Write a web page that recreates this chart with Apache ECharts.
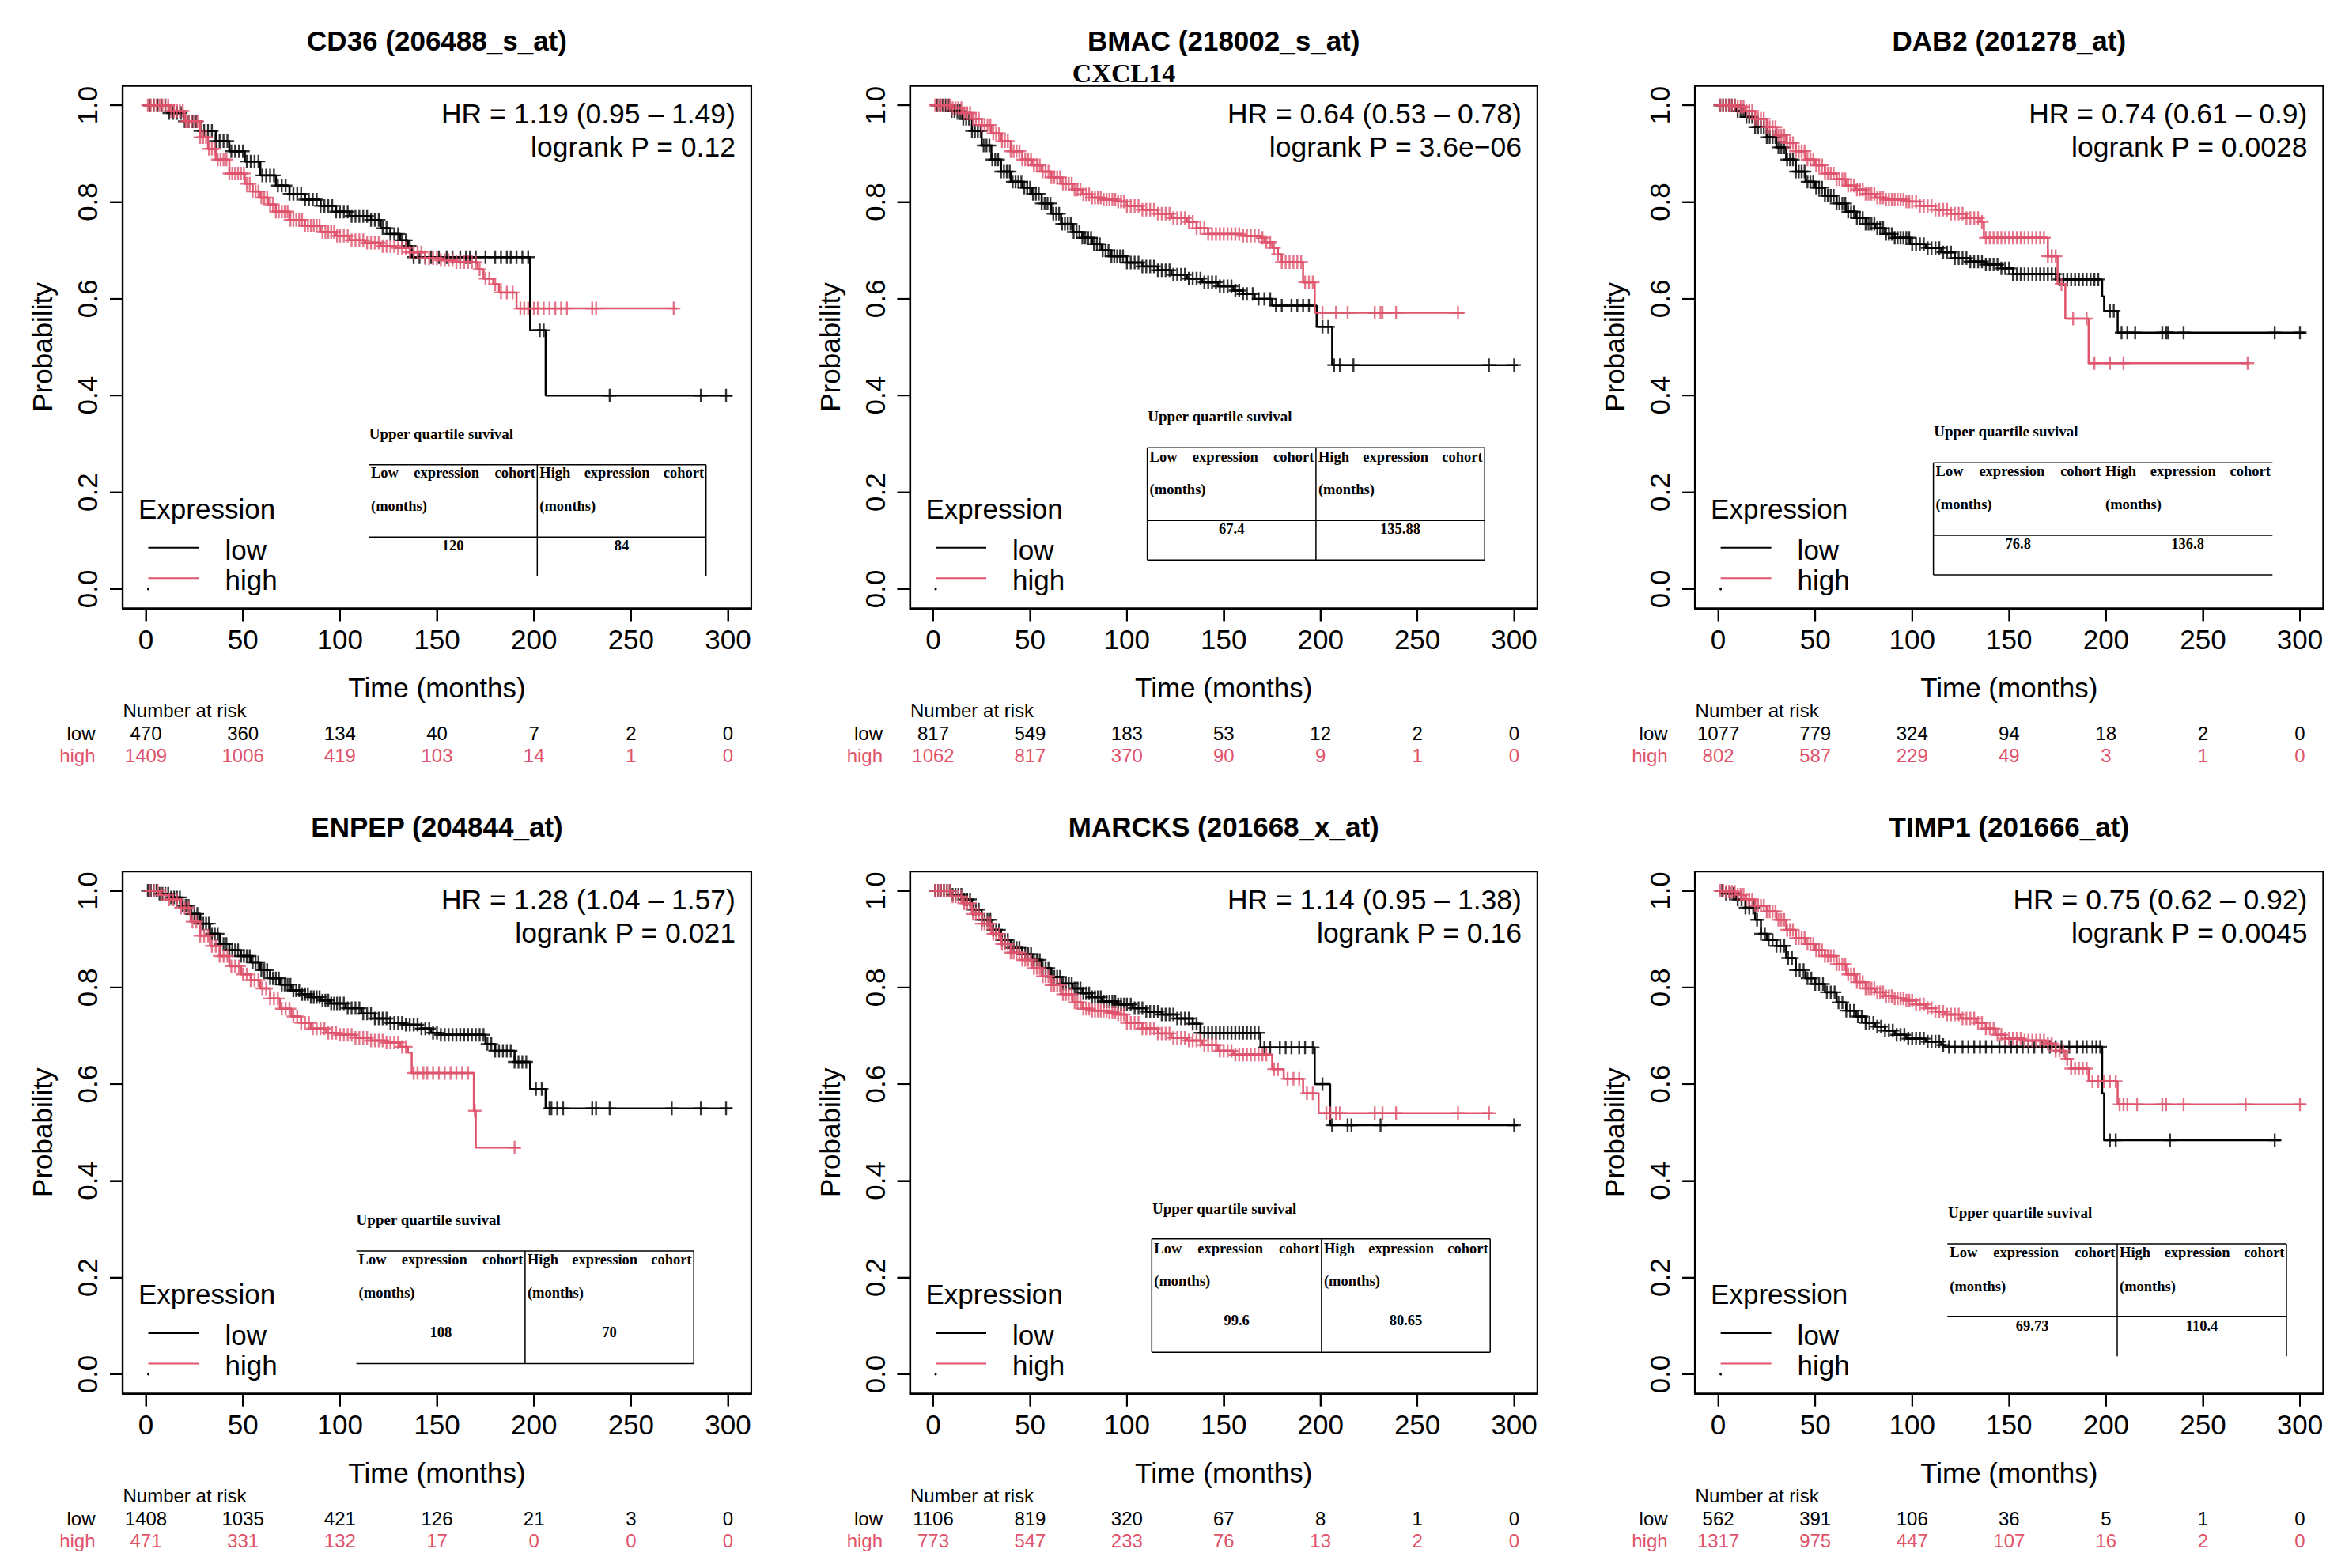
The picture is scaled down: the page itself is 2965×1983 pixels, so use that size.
<!DOCTYPE html>
<html><head><meta charset="utf-8">
<script src="https://cdn.jsdelivr.net/npm/echarts@6/dist/echarts.min.js"></script>
<style>html,body{margin:0;padding:0;background:#fff}#c{width:2965px;height:1983px}</style>
</head><body><div id="c"></div>
<script>
// ---------------- DATA ----------------
const panelTitles = ["CD36 (206488_s_at)", "BMAC (218002_s_at)", "DAB2 (201278_at)", "ENPEP (204844_at)", "MARCKS (201668_x_at)", "TIMP1 (201666_at)"];
const hrLabels = ["HR = 1.19 (0.95 \u2013 1.49)", "HR = 0.64 (0.53 \u2013 0.78)", "HR = 0.74 (0.61 \u2013 0.9)", "HR = 1.28 (1.04 \u2013 1.57)", "HR = 1.14 (0.95 \u2013 1.38)", "HR = 0.75 (0.62 \u2013 0.92)"];
const logrankLabels = ["logrank P = 0.12", "logrank P = 3.6e\u221206", "logrank P = 0.0028", "logrank P = 0.021", "logrank P = 0.16", "logrank P = 0.0045"];
const xTicks = [0, 50, 100, 150, 200, 250, 300];
const yTicks = [0, 0.2, 0.4, 0.6, 0.8, 1.0];
const riskTimes = [0, 50, 100, 150, 200, 250, 300];
const riskLow = [[470,360,134,40,7,2,0],[817,549,183,53,12,2,0],[1077,779,324,94,18,2,0],[1408,1035,421,126,21,3,0],[1106,819,320,67,8,1,0],[562,391,106,36,5,1,0]];
const riskHigh = [[1409,1006,419,103,14,1,0],[1062,817,370,90,9,1,0],[802,587,229,49,3,1,0],[471,331,132,17,0,0,0],[773,547,233,76,13,2,0],[1317,975,447,107,16,2,0]];
const quartileLow = ["120", "67.4", "76.8", "108", "99.6", "69.73"];
const quartileHigh = ["84", "135.88", "136.8", "70", "80.65", "110.4"];
const groupNames = ["low", "high"];

// KM curves: [time (months), survival probability]
const cd36Low = [[0,1],[12,0.984],[20,0.967],[28,0.947],[36,0.926],[43,0.905],[51,0.884],[59,0.855],[67,0.834],[74,0.817],[82,0.805],[90,0.792],[98,0.78],[105,0.771],[116,0.763],[121,0.746],[126,0.734],[131,0.721],[135,0.709],[137,0.686],[198,0.535],[206,0.40],[302,0.40]];
const cd36High = [[0,1],[12,0.988],[20,0.967],[28,0.934],[32,0.91],[36,0.888],[43,0.859],[51,0.838],[55,0.822],[59,0.809],[63,0.795],[67,0.78],[74,0.763],[82,0.751],[90,0.738],[98,0.73],[105,0.721],[113,0.716],[121,0.709],[129,0.705],[136,0.696],[144,0.684],[152,0.68],[160,0.676],[171,0.661],[174,0.642],[179,0.63],[182,0.613],[191,0.58],[274,0.58]];
const cd36LowCens = [2,4,6,8,10,12,14,16,18,20,22,24,26,28,30,32,34,36,38,40,42,44,46,48,50,52,54,56,58,60,62,64,66,68,70,72,74,76,78,80,82,84,86,88,90,92,94,96,98,100,102,104,106,108,110,112,114,116,118,120,122,124,126,128,130,132,134,136,138,141,144,147,151,155,158,162,165,167,170,175,180,183,186,188,191,194,197,203,205,239,286,299];
const cd36HighCens = [1,2.5,4,5.5,7,8.5,10,11.5,13,14.5,16,17.5,19,20.5,22,23.5,25,26.5,28,29.5,31,32.5,34,35.5,37,38.5,40,41.5,43,44.5,46,47.5,49,50.5,52,53.5,55,56.5,58,59.5,61,62.5,64,65.5,67,68.5,70,71.5,73,74.5,76,77.5,79,80.5,82,83.5,85,86.5,88,89.5,91,92.5,94,95.5,97,98.5,100,102,104,106,108,110,112,114,116,118,120,122,124,126,128,130,132,134,136,138,140,142,144,146,148,150,152,154,156,158,160,162,164,166,168,170,172,175,177,180,183,186,189,193,195,197,200,202,205,208,211,214,217,230,232,272];

const bmacLow = [[0,1],[9,0.988],[15,0.972],[20,0.947],[25,0.917],[30,0.888],[35,0.863],[40,0.842],[46,0.83],[51,0.817],[56,0.797],[61,0.776],[66,0.755],[72,0.738],[77,0.726],[82,0.713],[87,0.70],[92,0.688],[100,0.675],[108,0.667],[116,0.659],[123,0.65],[131,0.642],[139,0.634],[147,0.626],[155,0.617],[160,0.61],[166,0.60],[175,0.586],[198,0.542],[206,0.463],[302,0.463]];
const bmacHigh = [[0,1],[9,0.994],[15,0.984],[20,0.972],[25,0.959],[30,0.942],[35,0.926],[40,0.905],[46,0.888],[51,0.876],[56,0.863],[61,0.851],[66,0.838],[72,0.826],[77,0.816],[82,0.809],[87,0.805],[95,0.801],[100,0.792],[108,0.784],[116,0.776],[123,0.767],[131,0.759],[136,0.746],[142,0.734],[160,0.73],[169,0.726],[171,0.717],[175,0.705],[178,0.692],[180,0.676],[191,0.634],[197,0.571],[274,0.571]];
const bmacLowCens = [2,3.5,5,6.5,8,9.5,11,12.5,14,15.5,17,18.5,20,21.5,23,24.5,26,27.5,29,30.5,32,33.5,35,36.5,38,39.5,41,42.5,44,45.5,47,48.5,50,51.5,53,54.5,56,57.5,59,60.5,62,63.5,65,66.5,68,69.5,71,72.5,74,75.5,77,78.5,80,81.5,83,84.5,86,87.5,89,90.5,92,93.5,95,96.5,98,100,102,104,106,108,110,112,114,116,118,120,122,124,126,128,130,132,134,136,138,140,142,144,146,148,150,152,154,156,158,160,162,165,168,171,174,177,180,185,188,191,194,201,204,207,210,217,287,300];
const bmacHighCens = [1,2.5,4,5.5,7,8.5,10,11.5,13,14.5,16,17.5,19,20.5,22,23.5,25,26.5,28,29.5,31,32.5,34,35.5,37,38.5,40,41.5,43,44.5,46,47.5,49,50.5,52,53.5,55,56.5,58,59.5,61,62.5,64,65.5,67,68.5,70,71.5,73,74.5,76,77.5,79,80.5,82,83.5,85,86.5,88,89.5,91,92.5,94,95.5,97,98.5,100,102,104,106,108,110,112,114,116,118,120,122,124,126,128,130,132,134,136,138,140,142,144,146,148,150,152,154,156,158,160,162,164,166,168,170,172,174,176,178,180,182,184,186,188,190,192,194,196,201,208,214,228,231,232,239,271];

const dab2Low = [[0,1],[9,0.988],[14,0.976],[19,0.955],[25,0.934],[30,0.913],[35,0.888],[40,0.863],[45,0.842],[50,0.83],[55,0.813],[61,0.797],[66,0.78],[71,0.767],[76,0.755],[81,0.746],[86,0.734],[91,0.726],[99,0.713],[107,0.705],[115,0.696],[122,0.684],[130,0.677],[138,0.671],[146,0.663],[152,0.651],[175,0.64],[198,0.605],[199,0.575],[206,0.53],[303,0.53]];
const dab2High = [[0,1],[9,0.997],[14,0.988],[19,0.972],[25,0.955],[30,0.938],[35,0.922],[40,0.905],[45,0.888],[50,0.876],[55,0.859],[61,0.847],[66,0.834],[71,0.826],[76,0.817],[81,0.809],[86,0.805],[97,0.801],[104,0.792],[112,0.784],[120,0.776],[128,0.767],[135,0.759],[137,0.726],[170,0.688],[175,0.63],[179,0.559],[191,0.467],[274,0.467]];
const dab2LowCens = [1,2.5,4,5.5,7,8.5,10,11.5,13,14.5,16,17.5,19,20.5,22,23.5,25,26.5,28,29.5,31,32.5,34,35.5,37,38.5,40,41.5,43,44.5,46,47.5,49,50.5,52,53.5,55,56.5,58,59.5,61,62.5,64,65.5,67,68.5,70,71.5,73,74.5,76,77.5,79,80.5,82,83.5,85,86.5,88,89.5,91,92.5,94,95.5,97,98.5,100,102,104,106,108,110,112,114,116,118,120,122,124,126,128,130,132,134,136,138,140,142,144,146,148,150,152,154,156,158,160,162,164,166,168,170,172,174,176,178,180,182,184,186,188,190,192,194,196,202,204,208,211,215,229,231,232,240,287,300];
const dab2HighCens = [1,2.5,4,5.5,7,8.5,10,11.5,13,14.5,16,17.5,19,20.5,22,23.5,25,26.5,28,29.5,31,32.5,34,35.5,37,38.5,40,41.5,43,44.5,46,47.5,49,50.5,52,53.5,55,56.5,58,59.5,61,62.5,64,65.5,67,68.5,70,71.5,73,74.5,76,77.5,79,80.5,82,83.5,85,86.5,88,89.5,91,92.5,94,95.5,97,98.5,100,102,104,106,108,110,112,114,116,118,120,122,124,126,128,130,132,134,136,138,140,142,144,146,148,150,152,154,156,158,160,162,164,166,168,170,172,174,177,183,190,194,202,209,273];

const enpepLow = [[0,1],[7,0.994],[12,0.986],[18,0.969],[23,0.952],[28,0.932],[33,0.911],[38,0.89],[43,0.877],[49,0.865],[54,0.852],[59,0.836],[64,0.819],[69,0.806],[75,0.794],[80,0.786],[85,0.78],[90,0.773],[95,0.767],[103,0.757],[111,0.746],[118,0.736],[126,0.727],[134,0.723],[142,0.715],[147,0.706],[152,0.702],[175,0.683],[180,0.669],[190,0.646],[198,0.59],[206,0.55],[302,0.55]];
const enpepHigh = [[0,1],[7,0.992],[12,0.982],[18,0.965],[23,0.936],[28,0.907],[33,0.886],[38,0.865],[43,0.844],[49,0.827],[54,0.815],[59,0.798],[64,0.777],[69,0.756],[75,0.74],[80,0.727],[85,0.715],[93,0.706],[100,0.702],[108,0.696],[116,0.69],[124,0.686],[131,0.677],[135,0.665],[137,0.623],[169,0.545],[170,0.469],[193,0.469]];
const enpepLowCens = [1,2.5,4,5.5,7,8.5,10,11.5,13,14.5,16,17.5,19,20.5,22,23.5,25,26.5,28,29.5,31,32.5,34,35.5,37,38.5,40,41.5,43,44.5,46,47.5,49,50.5,52,53.5,55,56.5,58,59.5,61,62.5,64,65.5,67,68.5,70,71.5,73,74.5,76,77.5,79,80.5,82,83.5,85,86.5,88,89.5,91,92.5,94,95.5,97,98.5,100,102,104,106,108,110,112,114,116,118,120,122,124,126,128,130,132,134,136,138,140,142,144,146,148,150,152,154,156,158,160,162,164,166,168,170,172,174,176,178,180,182,184,186,188,190,192,194,196,201,204,208,209,212,215,230,232,239,271,286,299];
const enpepHighCens = [2,4,6,8,10,12,14,16,18,20,22,24,26,28,30,32,34,36,38,40,42,44,46,48,50,52,54,56,58,60,62,64,66,68,70,72,74,76,78,80,82,84,86,88,90,92,94,96,98,100,102,104,106,108,110,112,114,116,118,120,122,124,126,128,130,132,134,138,140,143,145,148,151,154,157,160,163,166,169.5,190];

const marcksLow = [[0,1],[9,0.992],[15,0.982],[20,0.961],[25,0.94],[30,0.919],[35,0.898],[40,0.882],[46,0.869],[51,0.857],[56,0.84],[61,0.822],[66,0.808],[72,0.798],[77,0.788],[82,0.78],[87,0.771],[95,0.765],[103,0.757],[110,0.75],[118,0.744],[126,0.736],[134,0.725],[138,0.706],[169,0.676],[197,0.60],[205,0.515],[302,0.515]];
const marcksHigh = [[0,1],[9,0.988],[15,0.974],[20,0.952],[25,0.932],[30,0.911],[35,0.89],[40,0.872],[46,0.857],[51,0.84],[56,0.823],[61,0.805],[66,0.786],[72,0.769],[77,0.756],[82,0.752],[90,0.748],[95,0.744],[100,0.727],[108,0.715],[116,0.705],[123,0.696],[131,0.69],[139,0.681],[147,0.669],[155,0.661],[175,0.631],[181,0.611],[191,0.581],[199,0.54],[289,0.54]];
const marcksLowCens = [1,2.5,4,5.5,7,8.5,10,11.5,13,14.5,16,17.5,19,20.5,22,23.5,25,26.5,28,29.5,31,32.5,34,35.5,37,38.5,40,41.5,43,44.5,46,47.5,49,50.5,52,53.5,55,56.5,58,59.5,61,62.5,64,65.5,67,68.5,70,71.5,73,74.5,76,77.5,79,80.5,82,83.5,85,86.5,88,89.5,91,92.5,94,95.5,97,98.5,100,102,104,106,108,110,112,114,116,118,120,122,124,126,128,130,132,134,136,138,140,142,144,146,148,150,152,154,156,158,160,162,164,166,168,171,174,179,182,185,189,192,196,201,206,214,216,231,300];
const marcksHighCens = [1,2.5,4,5.5,7,8.5,10,11.5,13,14.5,16,17.5,19,20.5,22,23.5,25,26.5,28,29.5,31,32.5,34,35.5,37,38.5,40,41.5,43,44.5,46,47.5,49,50.5,52,53.5,55,56.5,58,59.5,61,62.5,64,65.5,67,68.5,70,71.5,73,74.5,76,77.5,79,80.5,82,83.5,85,86.5,88,89.5,91,92.5,94,95.5,97,98.5,100,102,104,106,108,110,112,114,116,118,120,122,124,126,128,130,132,134,136,138,140,142,144,146,148,150,152,154,156,158,160,162,164,166,168,170,172,176,178,183,186,189,193,196,203,205,208,210,228,232,239,271,287];

const timp1Low = [[0,1],[4,0.994],[9,0.982],[14,0.965],[19,0.94],[22,0.911],[25,0.898],[30,0.886],[35,0.861],[40,0.836],[45,0.819],[50,0.807],[55,0.79],[61,0.769],[66,0.752],[71,0.74],[76,0.727],[81,0.719],[86,0.711],[91,0.702],[97,0.694],[107,0.688],[115,0.681],[117,0.677],[198,0.581],[199,0.484],[290,0.484]];
const timp1High = [[0,1],[4,0.998],[9,0.992],[14,0.982],[19,0.969],[25,0.957],[30,0.94],[35,0.919],[40,0.902],[45,0.89],[50,0.877],[55,0.865],[61,0.848],[66,0.827],[71,0.811],[76,0.798],[81,0.79],[86,0.782],[91,0.777],[97,0.773],[102,0.765],[107,0.757],[112,0.75],[117,0.744],[125,0.736],[133,0.727],[138,0.715],[143,0.702],[148,0.694],[158,0.69],[169,0.684],[174,0.669],[179,0.652],[182,0.632],[191,0.606],[206,0.558],[303,0.558]];
const timp1LowCens = [2,4,6,8,10,12,14,16,18,20,22,24,26,28,30,32,34,36,38,40,42,44,46,48,50,52,54,56,58,60,62,64,66,68,70,72,74,76,78,80,82,84,86,88,90,92,94,96,98,100,102,104,106,108,110,112,114,116,119,122,126,129,132,135,138,141,145,148,151,154,157,160,163,167,171,174,177,181,185,188,190,193,195,197,202,205,233,287];
const timp1HighCens = [1,2.5,4,5.5,7,8.5,10,11.5,13,14.5,16,17.5,19,20.5,22,23.5,25,26.5,28,29.5,31,32.5,34,35.5,37,38.5,40,41.5,43,44.5,46,47.5,49,50.5,52,53.5,55,56.5,58,59.5,61,62.5,64,65.5,67,68.5,70,71.5,73,74.5,76,77.5,79,80.5,82,83.5,85,86.5,88,89.5,91,92.5,94,95.5,97,98.5,100,102,104,106,108,110,112,114,116,118,120,122,124,126,128,130,132,134,136,138,140,142,144,146,148,150,152,154,156,158,160,162,164,166,168,170,172,174,176,178,180,182,184,186,188,190,193,196,199,202,205,207,209,211,216,229,231,240,272,300];

// ---------------- LAYOUT / STYLE ----------------
const RED = '#DF536B', BLACK = '#000000';
const SANS = '"Liberation Sans", Arial, Helvetica, sans-serif';
const SERIF = '"Liberation Serif", "Times New Roman", serif';
// pixel of month 0, month 300, prob 1.0, prob 0.0
const axisLayout = [[184.5,920.5,133.2,744.9],[1180,1914.5,133.2,744.9],[2172.6,2908,133.2,744.9],[184.5,920.5,1126.5,1738],[1180,1914.5,1126.5,1738],[2172.6,2908,1126.5,1738]];
const titleY = [51, 51, 51, 1045, 1045, 1045];
const tableLayout = [
 {tx:466.7, ty:548, L:466, D:679.3, R:892.7, top:587.7, mid:679.3, bot:729, r1:598, r2:640, r3:690, b:['top','mid','div','right']},
 {tx:1451.3, ty:526.5, L:1450.6, D:1663.9, R:1877.2, top:566.3, mid:658.2, bot:708.2, r1:577.6, r2:618.9, r3:668.9, b:['top','left','mid','div','right','bottom']},
 {tx:2445.3, ty:545.9, L:2444.6, D:2659, R:2873.3, top:585.2, mid:677, bot:727, r1:596, r2:637.8, r3:687.8, b:['top','left','mid','bottom']},
 {tx:450.6, ty:1542.9, L:450.6, D:663.9, R:877.2, top:1582.1, mid:0, bot:1724.5, r1:1593.4, r2:1635.2, r3:1685.2, b:['top','div','right','bottom']},
 {tx:1457, ty:1528, L:1456.3, D:1670.9, R:1884.2, top:1566.8, mid:0, bot:1710.2, r1:1578.6, r2:1620.4, r3:1669.9, b:['top','left','div','right','bottom']},
 {tx:2463, ty:1533.7, L:2462.3, D:2677, R:2891, top:1573, mid:1664.8, bot:1715.3, r1:1584.2, r2:1626.5, r3:1676.5, b:['top','mid','div','right']}
];

const curves = [[cd36Low,cd36High],[bmacLow,bmacHigh],[dab2Low,dab2High],[enpepLow,enpepHigh],[marcksLow,marcksHigh],[timp1Low,timp1High]];
const censors = [[cd36LowCens,cd36HighCens],[bmacLowCens,bmacHighCens],[dab2LowCens,dab2HighCens],[enpepLowCens,enpepHighCens],[marcksLowCens,marcksHighCens],[timp1LowCens,timp1HighCens]];

function stepAt(curve, t) { let v = curve[0][1]; for (const p of curve) { if (p[0] <= t) v = p[1]; else break; } return v; }
const PLUS = 'path://M-1.4,-10L1.4,-10L1.4,-1.4L10,-1.4L10,1.4L1.4,1.4L1.4,10L-1.4,10L-1.4,1.4L-10,1.4L-10,-1.4L-1.4,-1.4Z';

const chart = echarts.init(document.getElementById('c'), null, {renderer: 'svg', width: 2965, height: 1983});
const grids = [], xAxes = [], yAxes = [], series = [], boxes = [];
const axisLineStyle = {show: true, onZero: false, lineStyle: {color: '#000', width: 2.2}};
axisLayout.forEach((a, i) => {
  const s = (a[1] - a[0]) / 300, h = a[3] - a[2];
  const left = a[0] - 12 * s, width = 324 * s, top = a[2] - 0.04 * h, height = 1.08 * h;
  boxes.push({left, top, right: left + width, bottom: top + height, x0: a[0], y0: a[3]});
  grids.push({left, top, width, height, show: true, borderColor: '#000', borderWidth: 2.2, backgroundColor: 'rgba(0,0,0,0)', containLabel: false});
  xAxes.push({gridIndex: i, type: 'value', position: 'bottom', min: -12, max: 312, axisLine: axisLineStyle, splitLine: {show: false},
    axisTick: {show: true, inside: false, length: 16, customValues: xTicks, lineStyle: {color: '#000', width: 2}},
    axisLabel: {customValues: xTicks, margin: 22, fontSize: 35, color: '#000', fontFamily: SANS},
    name: 'Time (months)', nameLocation: 'middle', nameGap: 83, nameTextStyle: {fontSize: 35, color: '#000', fontFamily: SANS}});
  yAxes.push({gridIndex: i, type: 'value', position: 'left', min: -0.04, max: 1.04, axisLine: axisLineStyle, splitLine: {show: false},
    axisTick: {show: true, inside: false, length: 16, customValues: yTicks, lineStyle: {color: '#000', width: 2}},
    axisLabel: {customValues: yTicks, rotate: 90, margin: 27, fontSize: 35, color: '#000', fontFamily: SANS, formatter: v => Number(v).toFixed(1)},
    name: 'Probability', nameLocation: 'middle', nameRotate: 90, nameGap: 84, nameTextStyle: {fontSize: 35, color: '#000', fontFamily: SANS}});
  [0, 1].forEach(g => {
    const col = g === 0 ? BLACK : RED;
    series.push({type: 'line', xAxisIndex: i, yAxisIndex: i, data: curves[i][g], step: 'end', symbol: 'none', showSymbol: false,
      lineStyle: {color: col, width: 2.5}, animation: false, silent: true, z: 2 + g});
    series.push({type: 'scatter', xAxisIndex: i, yAxisIndex: i, data: censors[i][g].map(t => [t, stepAt(curves[i][g], t)]),
      symbol: PLUS, symbolSize: 17, itemStyle: {color: col}, animation: false, silent: true, z: 2 + g});
  });
});

chart.setOption({animation: false, backgroundColor: '#fff', grid: grids, xAxis: xAxes, yAxis: yAxes, series});

// ---------------- ANNOTATIONS ----------------
const ctx = document.createElement('canvas').getContext('2d');
function tw(text, font) { ctx.font = font; return ctx.measureText(text).width; }
const els = [];
function txt(x, y, text, o) {
  els.push({type: 'text', x, y, silent: true, style: Object.assign({text, fill: '#000', fontSize: 35, fontFamily: SANS, align: 'left', verticalAlign: 'middle'}, o || {})});
}
function ln(x1, y1, x2, y2, w, col) {
  els.push({type: 'line', silent: true, shape: {x1, y1, x2, y2}, style: {stroke: col || '#000', lineWidth: w || 1.5}});
}
const cellFontSize = 18.5, cellFont = 'bold 18.5px ' + SERIF;
function justified(a, b, y, words) {
  const ws = words.map(w => tw(w, cellFont));
  const x1 = a + 3, x3 = b - 2.5 - ws[2];
  const gap = (x3 - (x1 + ws[0]) - ws[1]) / 2;
  const xs = [x1, x1 + ws[0] + gap, x3];
  words.forEach((w, k) => txt(xs[k], y, w, {fontSize: cellFontSize, fontFamily: SERIF, fontWeight: 'bold'}));
}

boxes.forEach((b, i) => {
  const cx = (b.left + b.right) / 2;
  // outward axis ticks at the library's tick positions
  xTicks.forEach(t => { const px = chart.convertToPixel({xAxisIndex: i}, t); ln(px, b.bottom, px, b.bottom + 16, 2); });
  yTicks.forEach(v => { const py = chart.convertToPixel({yAxisIndex: i}, v); ln(b.left - 16, py, b.left, py, 2); });
  txt(cx, titleY[i], panelTitles[i], {fontWeight: 'bold', align: 'center'});
  txt(b.right - 20, b.top + 35.7, hrLabels[i], {align: 'right', fontSize: 35.5});
  txt(b.right - 20, b.top + 77.5, logrankLabels[i], {align: 'right', fontSize: 35.5});
  // legend
  txt(b.x0 - 9.5, b.top + 534.5, 'Expression');
  ln(b.x0 + 3, b.top + 584, b.x0 + 67, b.top + 584, 2, BLACK);
  ln(b.x0 + 3, b.top + 622.5, b.x0 + 67, b.top + 622.5, 2, RED);
  txt(b.x0 + 100, b.top + 586.5, groupNames[0]);
  txt(b.x0 + 100, b.top + 624.5, groupNames[1]);
  els.push({type: 'circle', silent: true, shape: {cx: b.x0 + 3, cy: b.y0, r: 1.5}, style: {fill: '#000'}});
  // number at risk
  txt(b.x0 - 29, b.y0 + 153.5, 'Number at risk', {fontSize: 24});
  txt(b.x0 - 64, b.y0 + 182.5, groupNames[0], {fontSize: 24, align: 'right'});
  txt(b.x0 - 64, b.y0 + 210.5, groupNames[1], {fontSize: 24, align: 'right', fill: RED});
  riskTimes.forEach((t, k) => {
    const px = chart.convertToPixel({xAxisIndex: i}, t);
    txt(px, b.y0 + 182.5, String(riskLow[i][k]), {fontSize: 24, align: 'center'});
    txt(px, b.y0 + 210.5, String(riskHigh[i][k]), {fontSize: 24, align: 'center', fill: RED});
  });
  // upper quartile table
  const T = tableLayout[i];
  txt(T.tx, T.ty, 'Upper quartile suvival', {fontSize: 19, fontFamily: SERIF, fontWeight: 'bold'});
  justified(T.L, T.D, T.r1, ['Low', 'expression', 'cohort']);
  justified(T.D, T.R, T.r1, ['High', 'expression', 'cohort']);
  txt(T.L + 3, T.r2, '(months)', {fontSize: cellFontSize, fontFamily: SERIF, fontWeight: 'bold'});
  txt(T.D + 3, T.r2, '(months)', {fontSize: cellFontSize, fontFamily: SERIF, fontWeight: 'bold'});
  txt((T.L + T.D) / 2, T.r3, quartileLow[i], {fontSize: cellFontSize, fontFamily: SERIF, fontWeight: 'bold', align: 'center'});
  txt((T.D + T.R) / 2, T.r3, quartileHigh[i], {fontSize: cellFontSize, fontFamily: SERIF, fontWeight: 'bold', align: 'center'});
  T.b.forEach(k => {
    if (k === 'top') ln(T.L, T.top, T.R, T.top);
    if (k === 'bottom') ln(T.L, T.bot, T.R, T.bot);
    if (k === 'mid') ln(T.L, T.mid, T.R, T.mid);
    if (k === 'left') ln(T.L, T.top, T.L, T.bot);
    if (k === 'right') ln(T.R, T.top, T.R, T.bot);
    if (k === 'div') ln(T.D, T.top, T.D, T.bot);
  });
});
txt(1421, 92, 'CXCL14', {fontSize: 34, fontFamily: SERIF, fontWeight: 'bold', align: 'center'});

chart.setOption({graphic: {elements: els}});
</script></body></html>
